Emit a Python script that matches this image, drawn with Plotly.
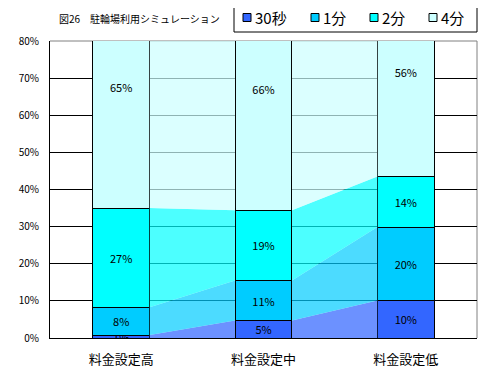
import plotly.graph_objects as go

categories = ["料金設定高", "料金設定中", "料金設定低"]
series_names = ["30秒", "1分", "2分", "4分"]
v_30s = [0.8, 4.7, 10.1]
v_1m = [7.5, 10.8, 19.8]
v_2m = [26.7, 18.9, 13.6]
v_4m = [65.0, 65.6, 56.4]
colors = ["#3366FF", "#00CCFF", "#00FFFF", "#CCFFFF"]
link_colors = ["rgba(51,102,255,0.72)", "rgba(0,204,255,0.7)",
               "rgba(0,255,255,0.7)", "rgba(204,255,255,0.7)"]
y_ticks = [0, 10, 20, 30, 40, 50, 60, 70, 80]

series = [v_30s, v_1m, v_2m, v_4m]
xs = list(range(len(categories)))
bar_w = 0.4
FONT = "Noto Sans CJK JP"

# page body has an 8px margin; plot area lands at x 50..477, y 41..338
OFF = 8
PL, PR, PT, PB = 50, 477, 41, 338


def px(x):
    return (x - PL) / (PR - PL)


def py(y):
    return (PB - y) / (PB - PT)


fig = go.Figure()

# cumulative stacks for connector bands
cum = []
run = [0.0] * len(categories)
for s in series:
    lo = run[:]
    run = [a + b for a, b in zip(run, s)]
    cum.append((lo, run[:]))

for k, (lo, hi) in enumerate(cum):
    for i in range(len(categories) - 1):
        x0 = xs[i] + bar_w / 2
        x1 = xs[i + 1] - bar_w / 2
        fig.add_trace(go.Scatter(
            x=[x0, x1, x1, x0, x0],
            y=[lo[i], lo[i + 1], hi[i + 1], hi[i], lo[i]],
            fill="toself", fillcolor=link_colors[k], mode="lines",
            line=dict(width=0), showlegend=False, hoverinfo="skip"))

for k, s in enumerate(series):
    fig.add_trace(go.Bar(
        x=xs, y=s, width=bar_w, name=series_names[k], showlegend=False,
        marker=dict(color=colors[k], line=dict(color="black", width=1)),
        text=[f"{int(v + 0.5)}%" for v in s],
        textposition="inside", insidetextanchor="middle",
        constraintext="none",
        textfont=dict(family=FONT, size=11, color="black")))

# legend box drawn as shapes + annotations to match the reference layout
shapes = [
    dict(type="line", xref="paper", yref="paper", x0=0, x1=1, y0=1, y1=1,
         line=dict(color="#808080", width=1), layer="below"),
    dict(type="line", xref="paper", yref="paper", x0=1, x1=1, y0=0, y1=1,
         line=dict(color="#808080", width=1), layer="below"),
    dict(type="rect", xref="paper", yref="paper", x0=px(234), x1=px(477),
         y0=py(32), y1=py(3), fillcolor="white", line=dict(color="black", width=1),
         layer="below"),
]
annotations = [dict(text="図26　駐輪場利用シミュレーション", xref="paper", yref="paper",
                    x=px(57), y=py(18), xanchor="left", yanchor="middle",
                    showarrow=False, font=dict(family=FONT, size=10, color="black"))]
leg_x = [243, 311, 370, 429]
for k, name in enumerate(series_names):
    sx = leg_x[k]
    shapes.append(dict(type="rect", xref="paper", yref="paper",
                       x0=px(sx), x1=px(sx + 8), y0=py(21.5), y1=py(13.5),
                       fillcolor=colors[k], line=dict(color="black", width=1),
                       layer="below"))
    annotations.append(dict(text=name, xref="paper", yref="paper",
                            x=px(sx + 11), y=py(17.5), xanchor="left", yanchor="middle",
                            showarrow=False, borderpad=0,
                            font=dict(family=FONT, size=15, color="black")))

fig.update_layout(
    barmode="stack",
    width=486 - OFF, height=371 - OFF,
    margin=dict(l=PL - OFF, r=486 - PR, t=PT - OFF, b=371 - PB, autoexpand=False),
    paper_bgcolor="white", plot_bgcolor="white",
    uniformtext=dict(minsize=11, mode="show"),
    showlegend=False,
    xaxis=dict(range=[-0.5, 2.5], tickvals=xs, ticktext=categories,
               showgrid=False, zeroline=False, showline=True,
               linecolor="black", linewidth=1, ticks="",
               ticklabelstandoff=9,
               tickfont=dict(family=FONT, size=13, color="black")),
    xaxis2=dict(range=[-0.5, 2.5], overlaying="x", anchor="y", side="bottom",
                tickvals=[0.5, 1.5], ticks="inside", ticklen=3, tickcolor="#333",
                showticklabels=False, showgrid=False, zeroline=False, showline=False),
    yaxis=dict(range=[0, 80], tickvals=y_ticks,
               ticktext=[f"{t}%" for t in y_ticks],
               showgrid=True, gridcolor="black", gridwidth=1,
               zeroline=False, showline=True, linecolor="black", linewidth=1,
               ticks="", ticklabelstandoff=8,
               tickfont=dict(family=FONT, size=10, color="black")),
    annotations=annotations,
    shapes=shapes,
)

fig.write_html("out.html")
